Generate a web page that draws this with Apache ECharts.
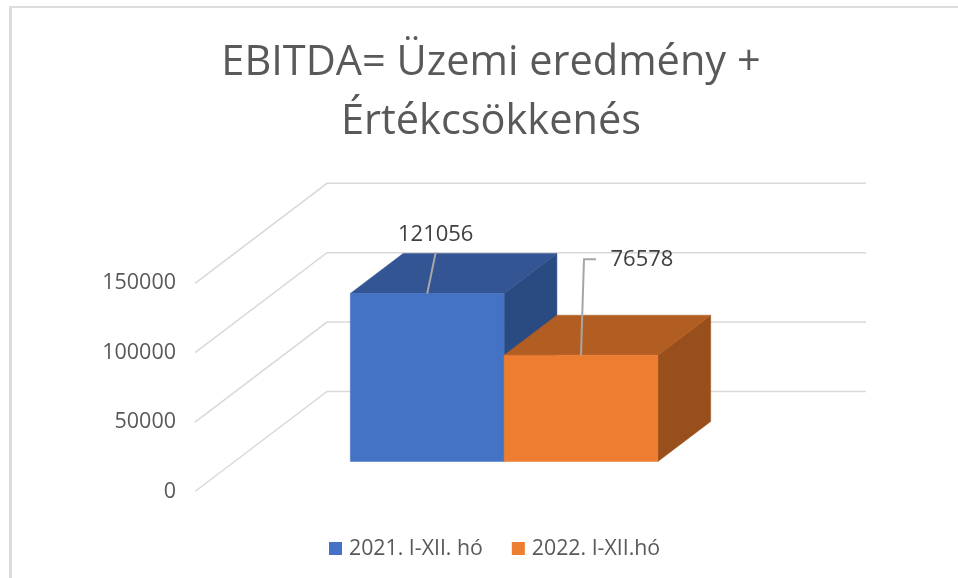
<!DOCTYPE html>
<html>
<head>
<meta charset="utf-8">
<title>EBITDA</title>
<script src="https://cdn.jsdelivr.net/npm/echarts@6/dist/echarts.min.js"></script>
<style>
  html, body { margin: 0; padding: 0; background: #fff; }
  #chart { width: 958px; height: 578px; }
  .frame { position: absolute; left: 9px; top: 6px; right: 0; bottom: 0; border-left: 3px solid #dcdcdc; border-top: 2px solid #dcdcdc; pointer-events: none; }
</style>
</head>
<body>
<div id="chart"></div>
<div class="frame"></div>
<script>
const categories = ['EBITDA']
const seriesNames = ['2021. I-XII. hó', '2022. I-XII.hó']
const values2021 = [121056]
const values2022 = [76578]
const tickValues = [0, 50000, 100000, 150000]

// the fake 3d box: how far a point moves when it goes from the front to the back of the floor
const DEPTH_X = 132
const DEPTH_Y = -100
const BAR_FRONT = 0.3
const BAR_BACK = 0.7
const BAR_WIDTH = 0.2853 // share of the category band
const WALL_RIGHT = 866

const myChart = echarts.init(document.getElementById('chart'))

function point(api, cat, value, depth, shift) {
  const p = api.coord([cat, value])
  return [p[0] + depth * DEPTH_X + shift, p[1] + depth * DEPTH_Y]
}

function gridRender(params, api) {
  const v = api.value(0)
  const front = point(api, 0, v, 0, -api.size([1, 0])[0] / 2)
  const back = [front[0] + DEPTH_X, front[1] + DEPTH_Y]
  return {
    type: 'polyline',
    shape: { points: [front, back, [WALL_RIGHT, back[1]]] },
    style: { fill: 'none', stroke: '#d9d9d9', lineWidth: 1.5 },
  }
}

// one box per value, side is -1 for the left bar and 0 for the right one
function boxRender(side, colors, leader, labelAt) {
  return function (params, api) {
    const band = api.size([1, 0])[0]
    const w = band * BAR_WIDTH
    const x0 = side * w
    const x1 = x0 + w
    const cat = api.value(0)
    const v = api.value(1)
    const f0 = point(api, cat, 0, BAR_FRONT, x0)
    const f1 = point(api, cat, 0, BAR_FRONT, x1)
    const t0 = point(api, cat, v, BAR_FRONT, x0)
    const t1 = point(api, cat, v, BAR_FRONT, x1)
    const b0 = point(api, cat, v, BAR_BACK, x0)
    const b1 = point(api, cat, v, BAR_BACK, x1)
    const s1 = point(api, cat, 0, BAR_BACK, x1)
    const mid = [(t0[0] + t1[0]) / 2, t0[1]]
    const leaderPts = [mid].concat(leader.map(function (d) { return [mid[0] + d[0], mid[1] + d[1]] }))
    return {
      type: 'group',
      children: [
        { type: 'polygon', shape: { points: [t1, b1, s1, f1] }, style: { fill: colors.side, stroke: colors.side, lineWidth: 0.5 } },
        { type: 'polygon', shape: { points: [t0, b0, b1, t1] }, style: { fill: colors.top, stroke: colors.top, lineWidth: 0.5 } },
        { type: 'polygon', shape: { points: [f0, f1, t1, t0] }, style: { fill: colors.front, stroke: colors.front, lineWidth: 0.5 } },
        { type: 'polyline', shape: { points: leaderPts }, style: { fill: 'none', stroke: '#a6a6a6', lineWidth: 2 } },
        {
          type: 'text',
          style: {
            x: mid[0] + labelAt[0],
            y: mid[1] + labelAt[1],
            text: String(v),
            fill: '#404040',
            font: '22px "Open Sans"',
            align: 'center',
            verticalAlign: 'middle',
          },
        },
      ],
    }
  }
}

myChart.setOption({
  animation: false,
  title: {
    text: 'EBITDA= Üzemi eredmény +\nÉrtékcsökkenés',
    left: 486,
    top: 29,
    textAlign: 'center',
    textStyle: {
      fontFamily: 'Open Sans',
      fontWeight: 'normal',
      fontSize: 41.5,
      lineHeight: 59,
      color: '#595959',
    },
  },
  legend: {
    data: seriesNames,
    left: 324,
    top: 533,
    icon: 'rect',
    itemWidth: 13,
    itemHeight: 13,
    itemGap: 29,
    textStyle: { fontFamily: 'Open Sans', fontSize: 21.3, color: '#595959', padding: [0, 0, 0, 2] },
  },
  grid: { left: 195, top: 283.3, width: 539, height: 208.2 },
  xAxis: {
    type: 'category',
    data: categories,
    axisLine: { show: false },
    axisTick: { show: false },
    axisLabel: { show: false },
  },
  yAxis: {
    type: 'value',
    min: 0,
    max: 150000,
    interval: 50000,
    splitLine: { show: false },
    axisLine: { show: false },
    axisTick: { show: false },
    axisLabel: {
      margin: 19,
      padding: [5, 0, 0, 0],
      fontFamily: 'Open Sans',
      fontSize: 21.5,
      color: '#595959',
      formatter: function (v) { return String(v) },
    },
  },
  series: [
    {
      type: 'custom',
      silent: true,
      data: tickValues.map(function (v) { return [v] }),
      encode: { y: 0 },
      renderItem: gridRender,
    },
    {
      type: 'custom',
      name: seriesNames[0],
      itemStyle: { color: '#4472c4' },
      data: values2021.map(function (v, i) { return [i, v] }),
      encode: { x: 0, y: 1 },
      renderItem: boxRender(-1, { front: '#4472c4', top: '#335593', side: '#2a4a82' }, [[8.5, -41]], [8.5, -59]),
    },
    {
      type: 'custom',
      name: seriesNames[1],
      itemStyle: { color: '#ed7d31' },
      data: values2022.map(function (v, i) { return [i, v] }),
      encode: { x: 0, y: 1 },
      renderItem: boxRender(0, { front: '#ed7d31', top: '#b25e22', side: '#984f1c' }, [[3, -96], [15, -96]], [61, -95]),
    },
  ],
})
</script>
</body>
</html>
